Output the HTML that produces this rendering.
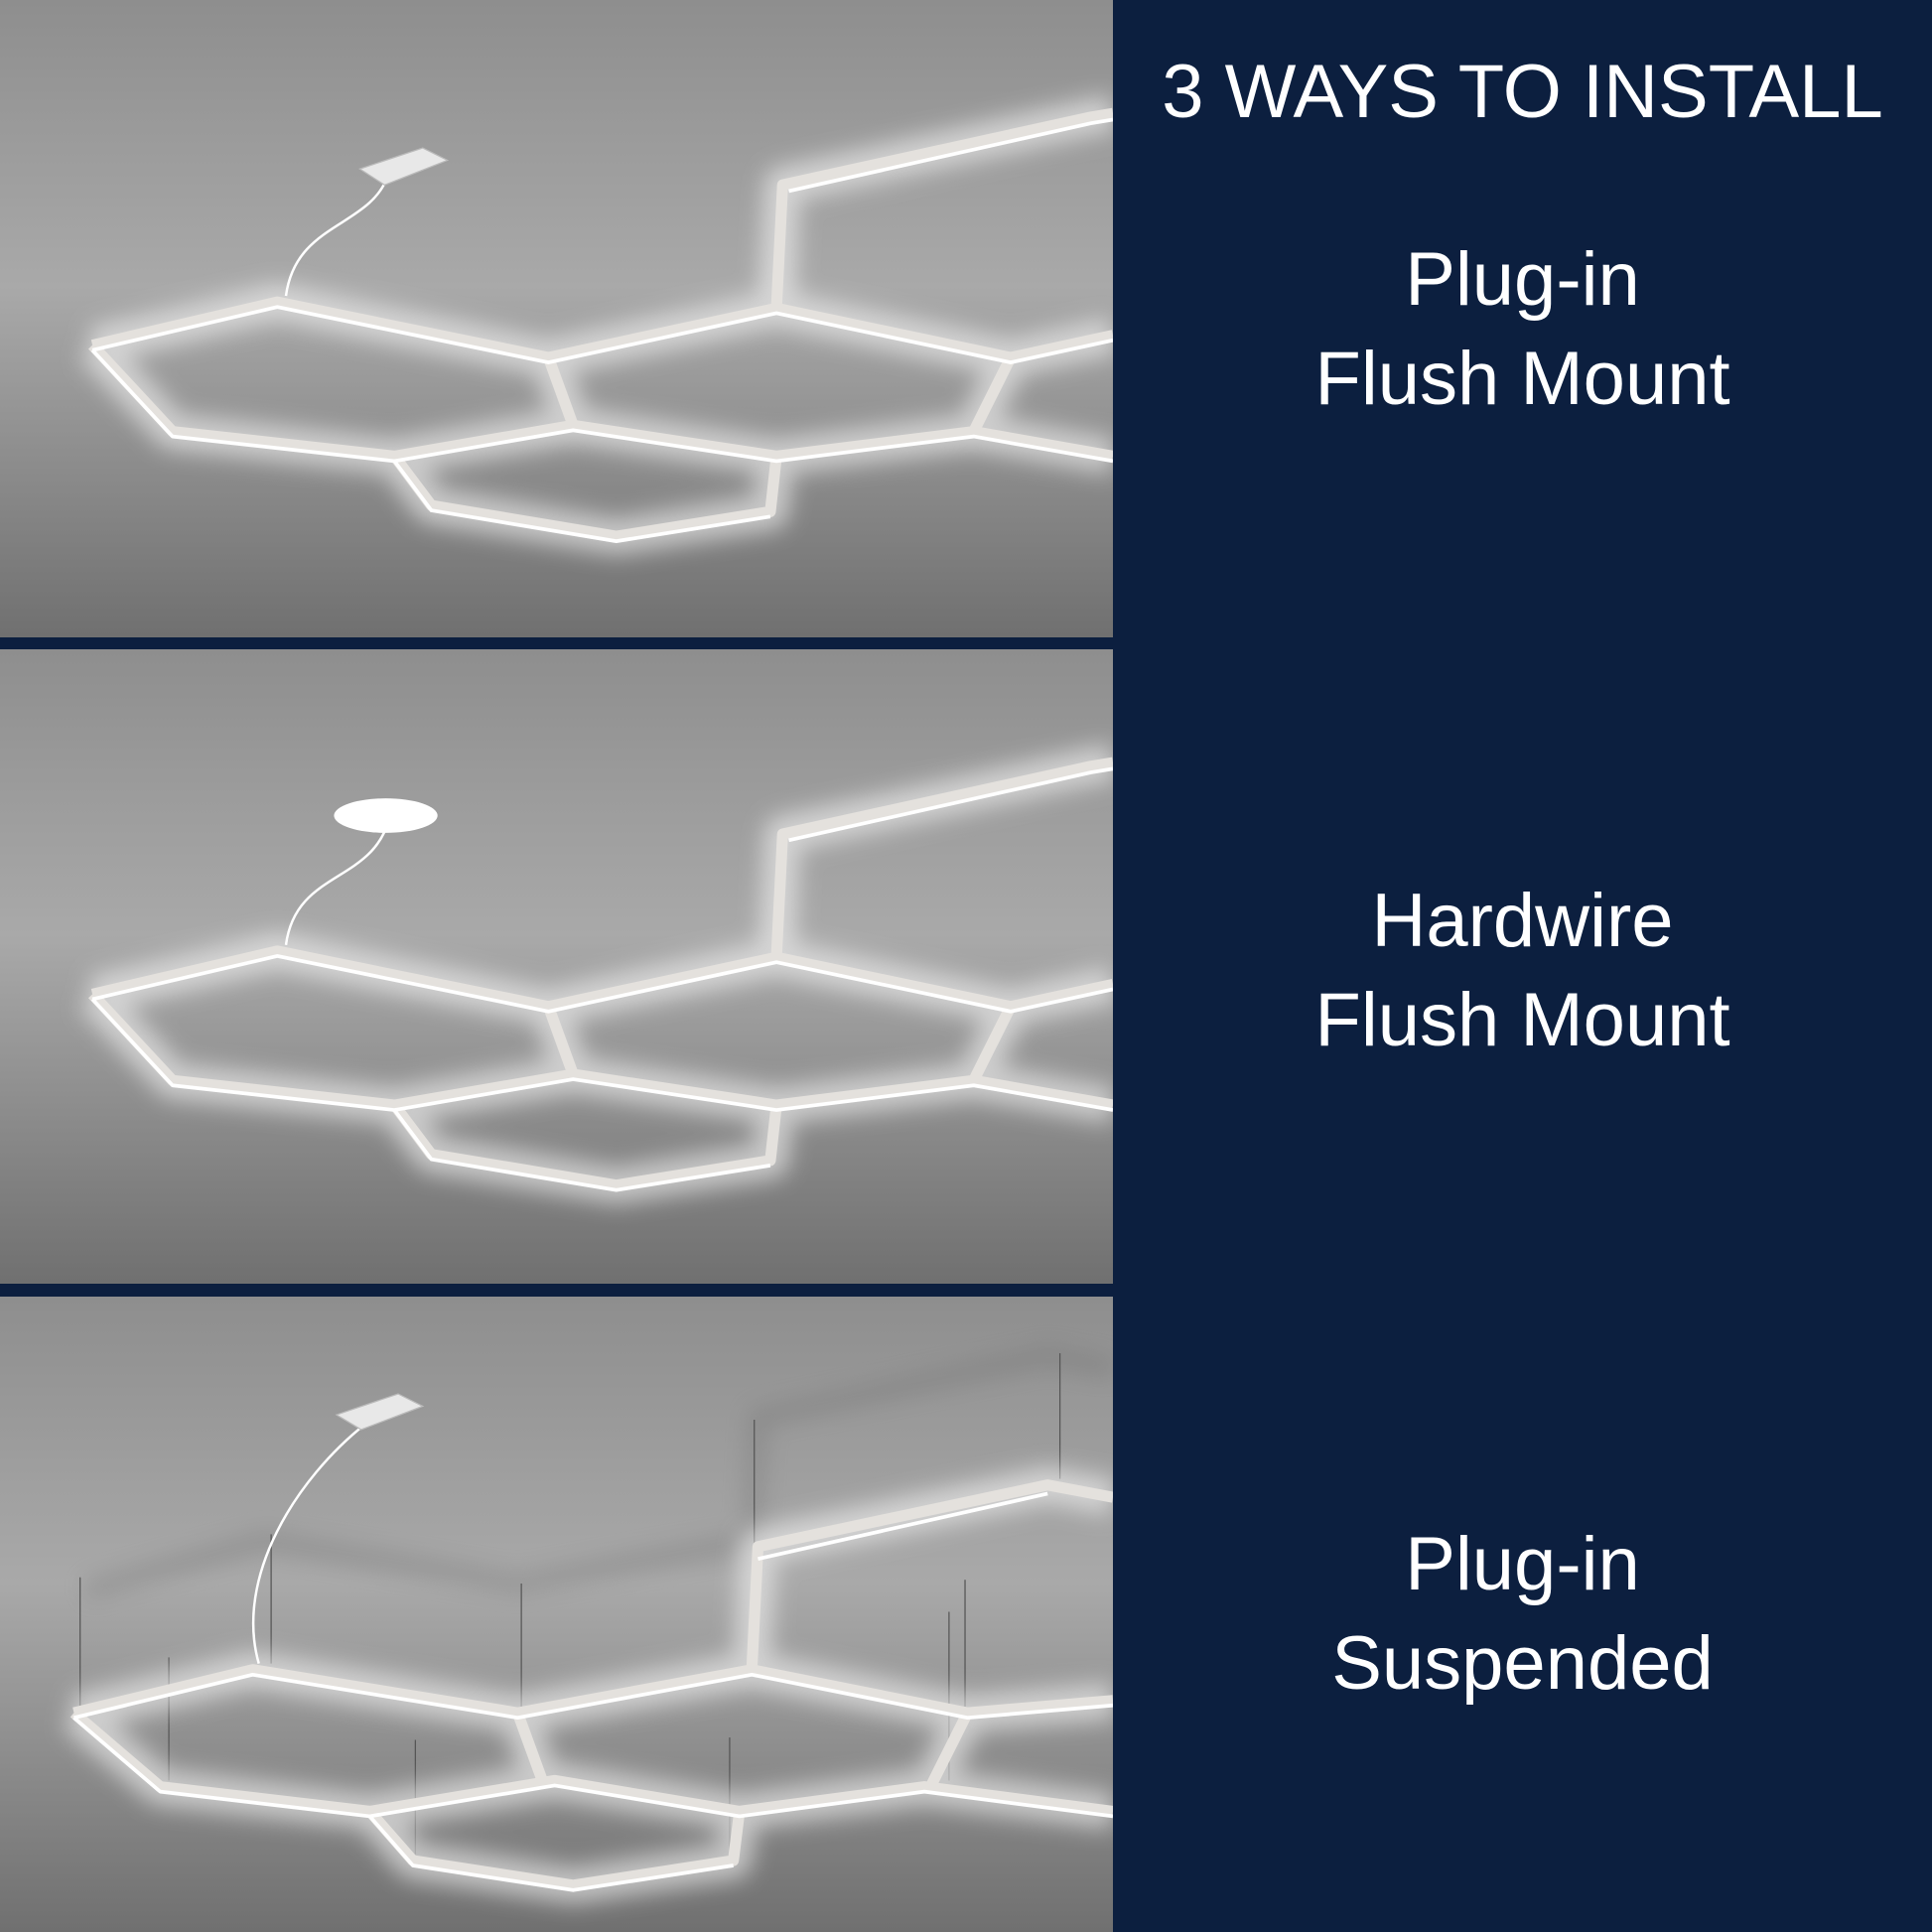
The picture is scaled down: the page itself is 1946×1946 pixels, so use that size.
<!DOCTYPE html>
<html><head><meta charset="utf-8"><style>
html,body{margin:0;padding:0;}
body{width:1946px;height:1946px;background:#0c1f3f;position:relative;overflow:hidden;font-family:"Liberation Sans",sans-serif;}
.panel{position:absolute;left:0;width:1121px;}
.t{position:absolute;left:1121px;width:825px;text-align:center;color:#fff;}
</style></head><body>

<svg class="panel" style="top:0;height:642px" viewBox="0 0 903 517" preserveAspectRatio="none">
<defs>
<linearGradient id="bg" x1="0" y1="0" x2="0" y2="1"><stop offset="0" stop-color="#8e8e8e"/><stop offset="0.45" stop-color="#a9a9a9"/><stop offset="1" stop-color="#707070"/></linearGradient>
<filter id="gl" x="-20%" y="-50%" width="140%" height="200%"><feGaussianBlur stdDeviation="9"/></filter>
</defs>
<rect width="903" height="517" fill="url(#bg)"/>
<g fill="none" stroke-linejoin="round">
<g stroke="#f4f4f4" stroke-width="30" opacity="0.6" filter="url(#gl)">
<polyline points="75,280 225,245 445,290 630,250 820,290 903,272"/>
<polyline points="75,280 140,350 320,370 465,345 630,370 790,350 903,370"/>
<polyline points="445,290 465,345"/><polyline points="820,290 790,350"/>
<polyline points="630,250 635,150 885,95 903,92"/>
<polyline points="320,370 350,410 500,435 625,415 630,370"/>
</g>
<g stroke="#e4e1dd" stroke-width="9">
<polyline points="75,280 225,245 445,290 630,250 820,290 903,272"/>
<polyline points="75,280 140,350 320,370 465,345 630,370 790,350 903,370"/>
<polyline points="445,290 465,345"/><polyline points="820,290 790,350"/>
<polyline points="630,250 635,150 885,95 903,92"/>
<polyline points="320,370 350,410 500,435 625,415 630,370"/>
</g>
<g stroke="#fff" stroke-width="3">
<polyline points="75,284 225,249 445,294 630,254 820,294 903,276"/>
<polyline points="75,284 140,354 320,374 465,349 630,374 790,354 903,374"/>
<polyline points="320,374 350,414 500,439 625,419"/>
<polyline points="640,155 885,100 903,97"/>
</g>
<path d="M232,240 C240,180 300,185 315,142" stroke="#fff" stroke-width="2"/>
</g>
<polygon points="292,137 343,120 363,130 312,150" fill="#e8e8e8" stroke="#bbb"/>
</svg>

<svg class="panel" style="top:654px;height:639px" viewBox="0 0 903 515" preserveAspectRatio="none">
<rect width="903" height="515" fill="url(#bg)"/>
<g fill="none" stroke-linejoin="round">
<g stroke="#f4f4f4" stroke-width="30" opacity="0.6" filter="url(#gl)">
<polyline points="75,280 225,245 445,290 630,250 820,290 903,272"/>
<polyline points="75,280 140,350 320,370 465,345 630,370 790,350 903,370"/>
<polyline points="445,290 465,345"/><polyline points="820,290 790,350"/>
<polyline points="630,250 635,150 885,95 903,92"/>
<polyline points="320,370 350,410 500,435 625,415 630,370"/>
</g>
<g stroke="#e4e1dd" stroke-width="9">
<polyline points="75,280 225,245 445,290 630,250 820,290 903,272"/>
<polyline points="75,280 140,350 320,370 465,345 630,370 790,350 903,370"/>
<polyline points="445,290 465,345"/><polyline points="820,290 790,350"/>
<polyline points="630,250 635,150 885,95 903,92"/>
<polyline points="320,370 350,410 500,435 625,415 630,370"/>
</g>
<g stroke="#fff" stroke-width="3">
<polyline points="75,284 225,249 445,294 630,254 820,294 903,276"/>
<polyline points="75,284 140,354 320,374 465,349 630,374 790,354 903,374"/>
<polyline points="320,374 350,414 500,439 625,419"/>
<polyline points="640,155 885,100 903,97"/>
</g>
<path d="M232,240 C240,180 300,190 315,140" stroke="#fff" stroke-width="2"/>
</g>
<ellipse cx="313" cy="135" rx="42" ry="14" fill="#fff"/>
</svg>

<svg class="panel" style="top:1306px;height:640px" viewBox="0 1052 903 516" preserveAspectRatio="none">
<rect x="0" y="1052" width="903" height="516" fill="url(#bg)"/>
<g fill="none" stroke="#6d6d6d" stroke-width="14" opacity="0.35" filter="url(#gl)">
<polyline points="70,1290 215,1250 420,1285 610,1250 615,1150 850,1100 903,1110"/>
</g>
<g stroke="#555" stroke-width="1">
<line x1="220" y1="1245" x2="220" y2="1350"/><line x1="423" y1="1285" x2="423" y2="1385"/>
<line x1="612" y1="1152" x2="612" y2="1350"/><line x1="860" y1="1098" x2="860" y2="1200"/>
<line x1="65" y1="1280" x2="65" y2="1385"/><line x1="137" y1="1345" x2="137" y2="1445"/>
<line x1="337" y1="1412" x2="337" y2="1505"/><line x1="592" y1="1410" x2="592" y2="1505"/>
<line x1="770" y1="1308" x2="770" y2="1445"/><line x1="783" y1="1282" x2="783" y2="1385"/>
</g>
<g fill="none" stroke-linejoin="round">
<g stroke="#f4f4f4" stroke-width="30" opacity="0.6" filter="url(#gl)">
<polyline points="60,1390 205,1355 420,1390 610,1355 785,1390 903,1380"/>
<polyline points="60,1390 130,1450 300,1470 450,1445 600,1470 750,1450 903,1470"/>
<polyline points="420,1390 440,1445"/><polyline points="785,1390 755,1450"/>
<polyline points="610,1355 615,1255 850,1205 903,1215"/>
<polyline points="300,1470 335,1510 465,1530 595,1510 600,1470"/>
</g>
<g stroke="#e4e1dd" stroke-width="9">
<polyline points="60,1390 205,1355 420,1390 610,1355 785,1390 903,1380"/>
<polyline points="60,1390 130,1450 300,1470 450,1445 600,1470 750,1450 903,1470"/>
<polyline points="420,1390 440,1445"/><polyline points="785,1390 755,1450"/>
<polyline points="610,1355 615,1255 850,1205 903,1215"/>
<polyline points="300,1470 335,1510 465,1530 595,1510 600,1470"/>
</g>
<g stroke="#fff" stroke-width="3">
<polyline points="60,1394 205,1359 420,1394 610,1359 785,1394 903,1384"/>
<polyline points="60,1394 130,1454 300,1474 450,1449 600,1474 750,1454 903,1474"/>
<polyline points="300,1474 335,1514 465,1534 595,1514"/>
<polyline points="615,1265 850,1212"/>
</g>
<path d="M210,1350 C190,1280 240,1200 297,1155" stroke="#fff" stroke-width="2"/>
</g>
<polygon points="273,1148 323,1131 343,1141 293,1160" fill="#e8e8e8" stroke="#bbb"/>
</svg>

<div class="t" style="top:48px;font-size:76px;line-height:90px;">3 WAYS TO INSTALL</div>
<div class="t" style="top:232px;font-size:76px;line-height:100px;">Plug-in<br>Flush Mount</div>
<div class="t" style="top:878px;font-size:76px;line-height:100px;">Hardwire<br>Flush Mount</div>
<div class="t" style="top:1526px;font-size:76px;line-height:100px;">Plug-in<br>Suspended</div>
</body></html>
